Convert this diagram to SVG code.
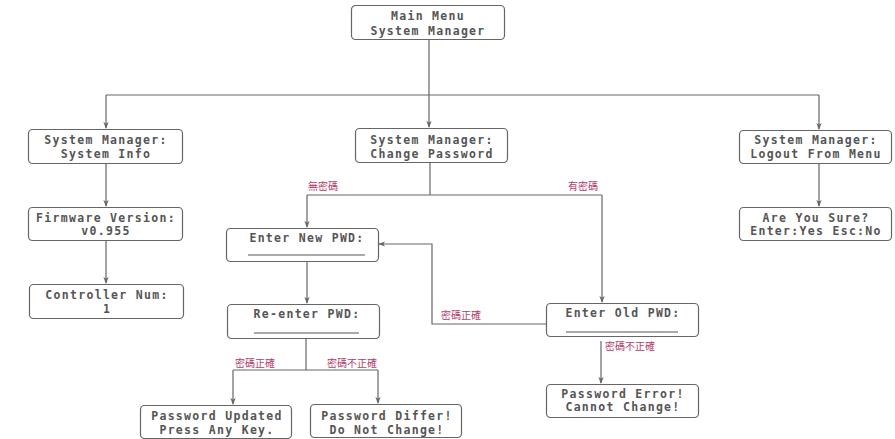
<svg xmlns="http://www.w3.org/2000/svg" width="895" height="439" viewBox="0 0 895 439">
<style>
.box{fill:#fff;stroke:#666;stroke-width:1.2}
.t{font-family:"DejaVu Sans Mono","Liberation Mono",monospace;font-size:11.5px;font-weight:bold;fill:#555;text-anchor:middle;letter-spacing:1.3px}
.ul{stroke:#555;stroke-width:1.2}
.c{fill:none;stroke:#666;stroke-width:1.2}
.lbl{font-family:"Noto Sans CJK TC","Noto Sans CJK SC",sans-serif;font-size:10px;fill:#b0406a}
</style>
<defs>
<marker id="ah" viewBox="0 0 8 8" refX="7" refY="4" markerWidth="7" markerHeight="7" orient="auto" markerUnits="userSpaceOnUse">
<path d="M0,1 L8,4 L0,7 L2,4 Z" fill="#666"/>
</marker>
</defs>
<rect width="895" height="439" fill="#fff"/>
<g id="connectors">
<path class="c" d="M429,40 V95"/>
<path class="c" d="M106,95 H819"/>
<path class="c" d="M106,95 V128" marker-end="url(#ah)"/>
<path class="c" d="M429,95 V127" marker-end="url(#ah)"/>
<path class="c" d="M819,95 V129" marker-end="url(#ah)"/>
<path class="c" d="M106,164 V206" marker-end="url(#ah)"/>
<path class="c" d="M106,241 V283" marker-end="url(#ah)"/>
<path class="c" d="M819,164 V206" marker-end="url(#ah)"/>
<path class="c" d="M430,163 V195"/>
<path class="c" d="M307,195 H602"/>
<path class="c" d="M307,195 V227" marker-end="url(#ah)"/>
<path class="c" d="M602,195 V302" marker-end="url(#ah)"/>
<path class="c" d="M307,262 V303" marker-end="url(#ah)"/>
<path class="c" d="M546,324 H432 V244 H379" marker-end="url(#ah)"/>
<path class="c" d="M601,341 V383" marker-end="url(#ah)"/>
<path class="c" d="M306,339 V370"/>
<path class="c" d="M233,370 H378"/>
<path class="c" d="M233,370 V404" marker-end="url(#ah)"/>
<path class="c" d="M378,370 V403" marker-end="url(#ah)"/>
<text class="lbl" x="308" y="190">無密碼</text>
<text class="lbl" x="568" y="190">有密碼</text>
<text class="lbl" x="441" y="319">密碼正確</text>
<text class="lbl" x="605" y="350">密碼不正確</text>
<text class="lbl" x="235" y="367">密碼正確</text>
<text class="lbl" x="327" y="367">密碼不正確</text>
</g>
<g id="main"><rect class="box" x="351.5" y="5.5" width="153" height="34" rx="4"/>
<text class="t" x="428" y="20">Main Menu</text><text class="t" x="428" y="34.5">System Manager</text></g>
<g id="sysinfo"><rect class="box" x="28.5" y="129.5" width="154" height="34" rx="4"/>
<text class="t" x="106" y="144">System Manager:</text><text class="t" x="106" y="157.5">System Info</text></g>
<g id="firmware"><rect class="box" x="28.5" y="207.5" width="154" height="33" rx="4"/>
<text class="t" x="106" y="221.5">Firmware Version:</text><text class="t" x="106" y="235">v0.955</text></g>
<g id="controller"><rect class="box" x="29.5" y="284.5" width="154" height="34" rx="4"/>
<text class="t" x="107" y="299">Controller Num:</text><text class="t" x="107" y="312.5">1</text></g>
<g id="changepw"><rect class="box" x="355.5" y="128.5" width="152" height="34" rx="4"/>
<text class="t" x="432" y="144">System Manager:</text><text class="t" x="432" y="157.5">Change Password</text></g>
<g id="logout"><rect class="box" x="739.5" y="130.5" width="152" height="33" rx="4"/>
<text class="t" x="816" y="144">System Manager:</text><text class="t" x="816" y="157.5">Logout From Menu</text></g>
<g id="sure"><rect class="box" x="739.5" y="207.5" width="152" height="33" rx="4"/>
<text class="t" x="816" y="221.5">Are You Sure?</text><text class="t" x="816" y="235">Enter:Yes Esc:No</text></g>
<g id="newpwd"><rect class="box" x="226.5" y="228.5" width="152" height="33" rx="4"/>
<text class="t" x="307" y="242">Enter New PWD:</text><line class="ul" x1="248" y1="255" x2="365" y2="255"/></g>
<g id="reenter"><rect class="box" x="227.5" y="304.5" width="152" height="34" rx="4"/>
<text class="t" x="307" y="318">Re-enter PWD:</text><line class="ul" x1="254" y1="333" x2="359" y2="333"/></g>
<g id="oldpwd"><rect class="box" x="546.5" y="303.5" width="152" height="33" rx="4"/>
<text class="t" x="623" y="317">Enter Old PWD:</text><line class="ul" x1="566" y1="332" x2="678" y2="332"/></g>
<g id="pwerror"><rect class="box" x="546.5" y="384.5" width="152" height="33" rx="4"/>
<text class="t" x="623" y="397.5">Password Error!</text><text class="t" x="623" y="411">Cannot Change!</text></g>
<g id="updated"><rect class="box" x="140.5" y="405.5" width="151" height="33" rx="4"/>
<text class="t" x="217" y="420">Password Updated</text><text class="t" x="217" y="433.5">Press Any Key.</text></g>
<g id="differ"><rect class="box" x="310.5" y="404.5" width="151" height="33" rx="4"/>
<text class="t" x="387" y="420">Password Differ!</text><text class="t" x="387" y="433.5">Do Not Change!</text></g>
</svg>
